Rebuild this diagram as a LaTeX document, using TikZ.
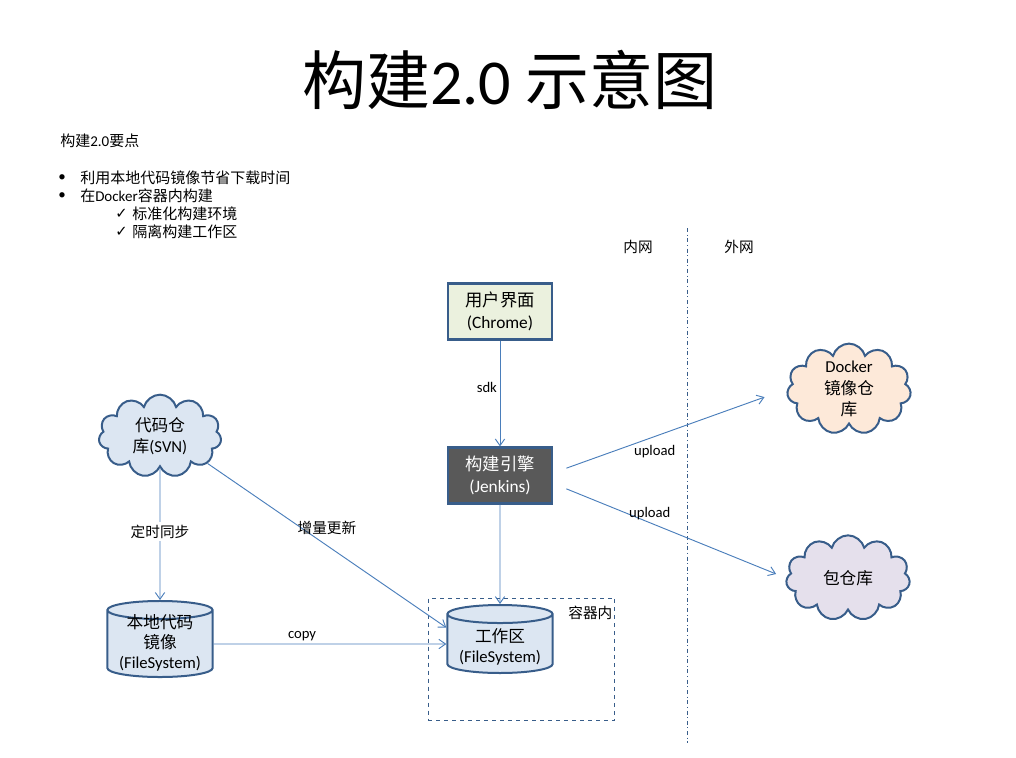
\documentclass[tikz,border=0pt]{standalone}
\usepackage{fontspec}
\setmainfont{Carlito}
\newfontfamily\cjk{Noto Sans CJK SC}
\newfontfamily\sym{DejaVu Sans}
\usetikzlibrary{arrows.meta, positioning, shapes.geometric, shapes.symbols}

\definecolor{lineblue}{HTML}{4A7EBB}
\definecolor{edgeblue}{HTML}{385D8A}
\definecolor{uigreen}{HTML}{EBF1DE}
\definecolor{jkgray}{HTML}{595959}
\definecolor{svnblue}{HTML}{DCE6F2}
\definecolor{dockpeach}{HTML}{FDE9D9}
\definecolor{pkglilac}{HTML}{E5E0EC}

\begin{document}
\begin{tikzpicture}[x=0.75pt, y=-0.75pt, >=Stealth,
  box/.style={rectangle, draw=edgeblue, line width=1.6pt, minimum width=78pt,
              minimum height=42pt, align=center, font=\fontsize{13}{16.5}\selectfont},
  cloudbox/.style={cloud, cloud puffs=11, cloud ignores aspect, draw=edgeblue,
              line width=1.5pt, inner sep=0pt, align=center,
              font=\fontsize{12.5}{16}\selectfont},
  drum/.style={cylinder, shape border rotate=90, aspect=0.22, draw=edgeblue,
              line width=1.5pt, fill=svnblue, inner sep=0pt, minimum width=79pt,
              minimum height=51pt, align=center, font=\fontsize{12.5}{15}\selectfont},
  arrow/.style={-{Straight Barb[length=5pt,width=7pt]}, lineblue, line width=0.7pt},
  lbl/.style={text=black, font=\fontsize{11}{13}\selectfont, inner sep=2pt},
  note/.style={anchor=west, inner sep=0pt, font=\fontsize{11.25}{13}\selectfont}
]
  \useasboundingbox (0,0) rectangle (1016,757);

  % title and notes
  \node[font=\fontsize{48}{52}\selectfont] (title) at (510,80) {{\cjk 构建}2.0 {\cjk 示意图}};
  \node[note] (pts) at (60,141) {{\cjk 构建}2.0{\cjk 要点}};
  \node[note] (b1) at (58,178) {\textbullet};
  \node[note] (t1) at (80,178) {\cjk 利用本地代码镜像节省下载时间};
  \node[note] (b2) at (58,196) {\textbullet};
  \node[note] (t2) at (80,196) {{\cjk 在}Docker{\cjk 容器内构建}};
  \node[note, font=\sym\fontsize{11}{12}\selectfont] (c1) at (115,214) {✓};
  \node[note] (t3) at (132,214) {\cjk 标准化构建环境};
  \node[note, font=\sym\fontsize{11}{12}\selectfont] (c2) at (115,232) {✓};
  \node[note] (t4) at (132,232) {\cjk 隔离构建工作区};

  % network border
  \node[lbl] (inner) at (638,247) {\cjk 内网};
  \node[lbl] (outer) at (739,247) {\cjk 外网};
  \coordinate (ntop) at (687,228);
  \coordinate (nbot) at (687,743);
  \draw[edgeblue, line width=0.7pt, dash dot] (ntop) -- (nbot);

  % main blocks
  \node[box, fill=uigreen] (ui) at (500,311.5) {{\cjk 用户界面}\\(Chrome)};
  \node[box, fill=jkgray, text=white] (jk) at (500,475.5) {{\cjk 构建引擎}\\(Jenkins)};
  \node[cloudbox, fill=svnblue, minimum width=92pt, minimum height=62pt] (svn) at (160,436)
       {{\cjk 代码仓}\\{\cjk 库}(SVN)};
  \node[cloudbox, fill=dockpeach, minimum width=93pt, minimum height=64pt] (dock) at (849,389)
       {Docker\\{\cjk 镜像仓}\\{\cjk 库}};
  \node[cloudbox, fill=pkglilac, minimum width=93pt, minimum height=64pt] (pkg) at (848,578)
       {\cjk 包仓库};

  \node[draw=edgeblue, dashed, line width=0.7pt, minimum width=140pt, minimum height=91.5pt]
       (ctr) at (521.5,659) {};
  \node[lbl, below left=4pt and 0pt of ctr.north east] (ctrlbl) {\cjk 容器内};

  \node[drum, text height=36pt, text depth=-18pt] (mirror) at (160,644)
       {{\cjk 本地代码}\\{\cjk 镜像}\\(FileSystem)};
  \node[drum, text height=27pt, text depth=-3pt] (ws) at (500,644)
       {{\cjk 工作区}\\(FileSystem)};

  % connectors
  \draw[arrow] (ui) -- (jk) node[lbl, pos=0.44, left] {sdk};
  \draw[arrow] (jk) -- (ws);
  \draw[arrow] (svn.south) -- (mirror.top)
       node[lbl, pos=0.48, fill=white] {\cjk 定时同步};
  \draw[arrow] (svn.-30) -- (ws.163) node[lbl, midway, above=6pt] {\cjk 增量更新};
  \draw[arrow] (mirror) -- (ws) node[lbl, pos=0.38, above] {copy};
  \draw[arrow, shorten >=18pt] ([xshift=10pt,yshift=5.5pt]jk.east) -- (dock.west)
       node[lbl, pos=0.4, below=4pt] {upload};
  \draw[arrow, shorten >=8pt] ([xshift=10pt,yshift=-10pt]jk.east) -- (pkg.west)
       node[lbl, pos=0.38, above] {upload};
\end{tikzpicture}
\end{document}
